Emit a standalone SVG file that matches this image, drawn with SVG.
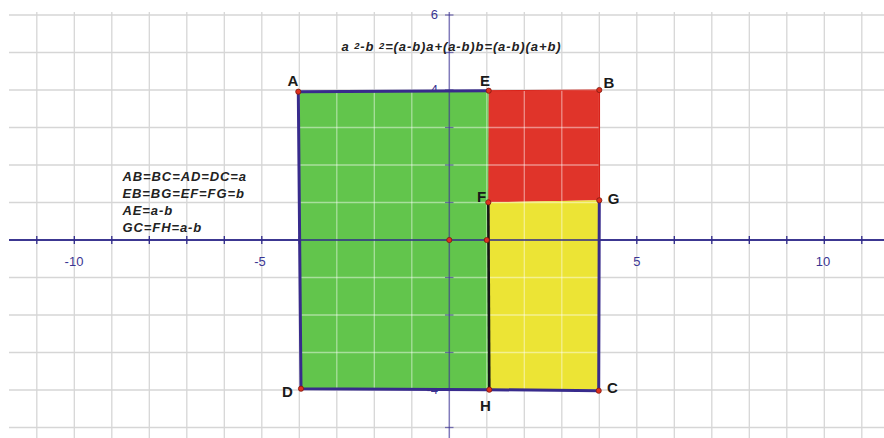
<svg xmlns="http://www.w3.org/2000/svg" width="884" height="438" viewBox="0 0 884 438">
<style>
.grid{stroke:#d6d6d6;stroke-width:1.3}
.gridw{stroke:#ffffff;stroke-width:1.3;stroke-opacity:0.45}
.tick{stroke:#2f2a8a;stroke-width:1.3}
.tl{font-family:"Liberation Sans",Arial,sans-serif;font-size:13px;fill:#3b3592}
.pl{font-family:"Liberation Sans",Arial,sans-serif;font-size:15px;font-weight:bold;fill:#1a1a1a}
.bi{font-family:"Liberation Sans",Arial,sans-serif;font-size:13px;font-weight:bold;font-style:italic;fill:#222;letter-spacing:0.9px}
.pt{fill:#e0301e;stroke:#7a1a10;stroke-width:0.8}
.blue{stroke:#382b8c;stroke-width:3;fill:none;stroke-linecap:round}
</style>
<defs>
<clipPath id="polys">
<polygon points="298.3,91.7 488.7,90.7 489.3,389.7 301,388.7"/>
<polygon points="488.7,90.7 599.3,90 599.3,200.3 488.3,202.3"/>
<polygon points="488.3,202.3 599.3,200.3 598.7,390.7 489.3,389.7"/>
</clipPath>
<g id="gridlines">
<line x1="36.8" y1="12" x2="36.8" y2="438"/><line x1="74.3" y1="12" x2="74.3" y2="438"/><line x1="111.8" y1="12" x2="111.8" y2="438"/><line x1="149.3" y1="12" x2="149.3" y2="438"/><line x1="186.8" y1="12" x2="186.8" y2="438"/><line x1="224.3" y1="12" x2="224.3" y2="438"/><line x1="261.8" y1="12" x2="261.8" y2="438"/><line x1="299.3" y1="12" x2="299.3" y2="438"/><line x1="336.8" y1="12" x2="336.8" y2="438"/><line x1="374.3" y1="12" x2="374.3" y2="438"/><line x1="411.8" y1="12" x2="411.8" y2="438"/><line x1="486.8" y1="12" x2="486.8" y2="438"/><line x1="524.3" y1="12" x2="524.3" y2="438"/><line x1="561.8" y1="12" x2="561.8" y2="438"/><line x1="599.3" y1="12" x2="599.3" y2="438"/><line x1="636.8" y1="12" x2="636.8" y2="438"/><line x1="674.3" y1="12" x2="674.3" y2="438"/><line x1="711.8" y1="12" x2="711.8" y2="438"/><line x1="749.3" y1="12" x2="749.3" y2="438"/><line x1="786.8" y1="12" x2="786.8" y2="438"/><line x1="824.3" y1="12" x2="824.3" y2="438"/><line x1="861.8" y1="12" x2="861.8" y2="438"/>
<line x1="9" y1="15" x2="884" y2="15"/><line x1="9" y1="52.5" x2="884" y2="52.5"/><line x1="9" y1="90" x2="884" y2="90"/><line x1="9" y1="127.5" x2="884" y2="127.5"/><line x1="9" y1="165" x2="884" y2="165"/><line x1="9" y1="202.5" x2="884" y2="202.5"/><line x1="9" y1="277.5" x2="884" y2="277.5"/><line x1="9" y1="315" x2="884" y2="315"/><line x1="9" y1="352.5" x2="884" y2="352.5"/><line x1="9" y1="390" x2="884" y2="390"/><line x1="9" y1="427.5" x2="884" y2="427.5"/>
</g>
</defs>
<rect width="884" height="438" fill="#ffffff"/>
<g class="grid"><use href="#gridlines"/></g>
<g id="x-axis">
<line x1="9" y1="240" x2="884" y2="240" stroke="#2f2a8a" stroke-width="1.5"/>
<g class="tick">
<line x1="36.8" y1="236" x2="36.8" y2="244"/><line x1="74.3" y1="236" x2="74.3" y2="244"/><line x1="111.8" y1="236" x2="111.8" y2="244"/><line x1="149.3" y1="236" x2="149.3" y2="244"/><line x1="186.8" y1="236" x2="186.8" y2="244"/><line x1="224.3" y1="236" x2="224.3" y2="244"/><line x1="261.8" y1="236" x2="261.8" y2="244"/><line x1="299.3" y1="236" x2="299.3" y2="244"/><line x1="336.8" y1="236" x2="336.8" y2="244"/><line x1="374.3" y1="236" x2="374.3" y2="244"/><line x1="411.8" y1="236" x2="411.8" y2="244"/><line x1="486.8" y1="236" x2="486.8" y2="244"/><line x1="524.3" y1="236" x2="524.3" y2="244"/><line x1="561.8" y1="236" x2="561.8" y2="244"/><line x1="599.3" y1="236" x2="599.3" y2="244"/><line x1="636.8" y1="236" x2="636.8" y2="244"/><line x1="674.3" y1="236" x2="674.3" y2="244"/><line x1="711.8" y1="236" x2="711.8" y2="244"/><line x1="749.3" y1="236" x2="749.3" y2="244"/><line x1="786.8" y1="236" x2="786.8" y2="244"/><line x1="824.3" y1="236" x2="824.3" y2="244"/><line x1="861.8" y1="236" x2="861.8" y2="244"/>
</g>
<text class="tl" x="74" y="265.5" text-anchor="middle">-10</text>
<text class="tl" x="260" y="265.5" text-anchor="middle">-5</text>
<text class="tl" x="636.8" y="265.5" text-anchor="middle">5</text>
<text class="tl" x="823" y="265.5" text-anchor="middle">10</text>
</g>
<g id="y-labels">
<text class="tl" x="438" y="19" text-anchor="end">6</text>
<text class="tl" x="438" y="94" text-anchor="end">4</text>
<text class="tl" x="438" y="169" text-anchor="end">2</text>
<text class="tl" x="438" y="319" text-anchor="end">-2</text>
<text class="tl" x="438" y="394" text-anchor="end">-4</text>
</g>
<g id="green-rect"><polygon points="298.3,91.7 488.7,90.7 489.3,389.7 301,388.7" fill="#62c54c"/></g>
<g id="red-square"><polygon points="488.7,90.7 599.3,90 599.3,200.3 488.3,202.3" fill="#e0342a"/></g>
<g id="yellow-rect"><polygon points="488.3,202.3 599.3,200.3 598.7,390.7 489.3,389.7" fill="#ece435"/></g>
<g class="gridw" clip-path="url(#polys)"><use href="#gridlines"/></g>
<line x1="9" y1="240" x2="884" y2="240" stroke="#2f2a8a" stroke-width="1.5"/>
<g id="y-axis">
<line x1="449.3" y1="12" x2="449.3" y2="438" stroke="#3f3597" stroke-opacity="0.65" stroke-width="1.5"/>
<g stroke="#3f3597" stroke-opacity="0.65" stroke-width="1.3">
<line x1="445" y1="15" x2="453.5" y2="15"/><line x1="445" y1="52.5" x2="453.5" y2="52.5"/><line x1="445" y1="90" x2="453.5" y2="90"/><line x1="445" y1="127.5" x2="453.5" y2="127.5"/><line x1="445" y1="165" x2="453.5" y2="165"/><line x1="445" y1="202.5" x2="453.5" y2="202.5"/><line x1="445" y1="277.5" x2="453.5" y2="277.5"/><line x1="445" y1="315" x2="453.5" y2="315"/><line x1="445" y1="352.5" x2="453.5" y2="352.5"/><line x1="445" y1="390" x2="453.5" y2="390"/><line x1="445" y1="427.5" x2="453.5" y2="427.5"/>
</g>
</g>
<g id="connectors">
<line x1="599.3" y1="90" x2="599.3" y2="200.3" stroke="#d8231a" stroke-width="1.5"/>
<line x1="488.7" y1="90.7" x2="599.3" y2="90" stroke="#d8231a" stroke-width="1"/>
<line x1="488.3" y1="202.3" x2="489.3" y2="389.7" stroke="#151515" stroke-width="2.6"/>
<polyline class="blue" points="488.7,90.7 298.3,91.7 301,388.7 489.3,389.7 598.7,390.7 599.3,200.3"/>
</g>
<g id="texts">
<text class="bi" x="341.5" y="51"><tspan>a </tspan><tspan font-size="9.5" dy="-2.5">2</tspan><tspan dy="2.5">-b </tspan><tspan font-size="9.5" dy="-2.5">2</tspan><tspan dy="2.5">=(a-b)a+(a-b)b=(a-b)(a+b)</tspan></text>
<text class="bi" x="122.5" y="180.5">AB=BC=AD=DC=a</text>
<text class="bi" x="122.5" y="197.5">EB=BG=EF=FG=b</text>
<text class="bi" x="122.5" y="214.5">AE=a-b</text>
<text class="bi" x="122.5" y="231.5">GC=FH=a-b</text>
</g>
<g id="O"><circle class="pt" cx="449.3" cy="240" r="2.6"/></g>
<g id="P"><circle class="pt" cx="486.8" cy="240" r="2.6"/></g>
<g id="A"><circle class="pt" cx="298.3" cy="91.7" r="2.6"/><text class="pl" x="293" y="85.5" text-anchor="middle">A</text></g>
<g id="E"><circle class="pt" cx="488.7" cy="90.7" r="2.6"/><text class="pl" x="485" y="85.5" text-anchor="middle">E</text></g>
<g id="B"><circle class="pt" cx="599.3" cy="90" r="2.6"/><text class="pl" x="609" y="87.5" text-anchor="middle">B</text></g>
<g id="F"><circle class="pt" cx="488.3" cy="202.3" r="2.6"/><text class="pl" x="481.5" y="202" text-anchor="middle">F</text></g>
<g id="G"><circle class="pt" cx="599.3" cy="200.3" r="2.6"/><text class="pl" x="613.5" y="204" text-anchor="middle">G</text></g>
<g id="D"><circle class="pt" cx="301" cy="388.7" r="2.6"/><text class="pl" x="287.5" y="396.5" text-anchor="middle">D</text></g>
<g id="H"><circle class="pt" cx="489.3" cy="389.7" r="2.6"/><text class="pl" x="485.5" y="410.5" text-anchor="middle">H</text></g>
<g id="C"><circle class="pt" cx="598.7" cy="390.7" r="2.6"/><text class="pl" x="612.5" y="393" text-anchor="middle">C</text></g>
</svg>
